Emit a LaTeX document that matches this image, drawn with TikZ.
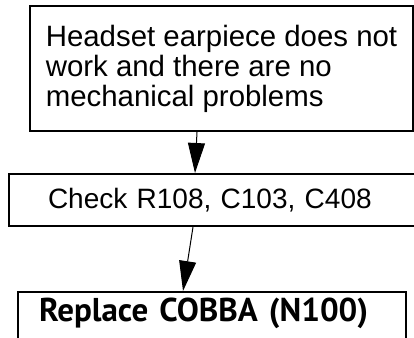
\documentclass[tikz,border=0pt]{standalone}
\usepackage{fontspec}
\setmainfont{Liberation Sans}
\newfontfamily\boldsans{PT Sans}
\usetikzlibrary{arrows.meta}

\tikzset{
  stepbox/.style={draw,line width=2pt,anchor=north west,align=left,
    inner ysep=0pt,font=\fontsize{29.4}{30}\selectfont},
  flow/.style={line width=1pt,-{Triangle[length=30pt,width=17pt]}}
}

\begin{document}
\begin{tikzpicture}[x=1pt,y=-1pt]

\clip (0,0) rectangle (414,337);
\useasboundingbox (0,0) rectangle (414,337);

% the three steps
\node[stepbox,minimum width=383pt,minimum height=125pt]
  (fault) at (29,5) {Headset earpiece does not\\work and there are no\\mechanical problems};
\node[stepbox,inner xsep=39pt,text width=342pt,minimum height=52pt,
  font=\fontsize{28}{30}\selectfont]
  (check) at (8,173) {Check R108, C103, C408};
\node[stepbox,inner xsep=21pt,text width=346pt,text height=29pt,text depth=25pt,
  font=\boldsans\bfseries\fontsize{33}{33}\selectfont]
  (cobba) at (17,291) {Replace COBBA (N100)};

% arrows between them
\draw[flow] ([xshift=168pt]fault.south west) -- ([xshift=187pt]check.north west);
\draw[flow] ([xshift=185pt]check.south west) -- ([xshift=166pt]cobba.north west);

\end{tikzpicture}
\end{document}
